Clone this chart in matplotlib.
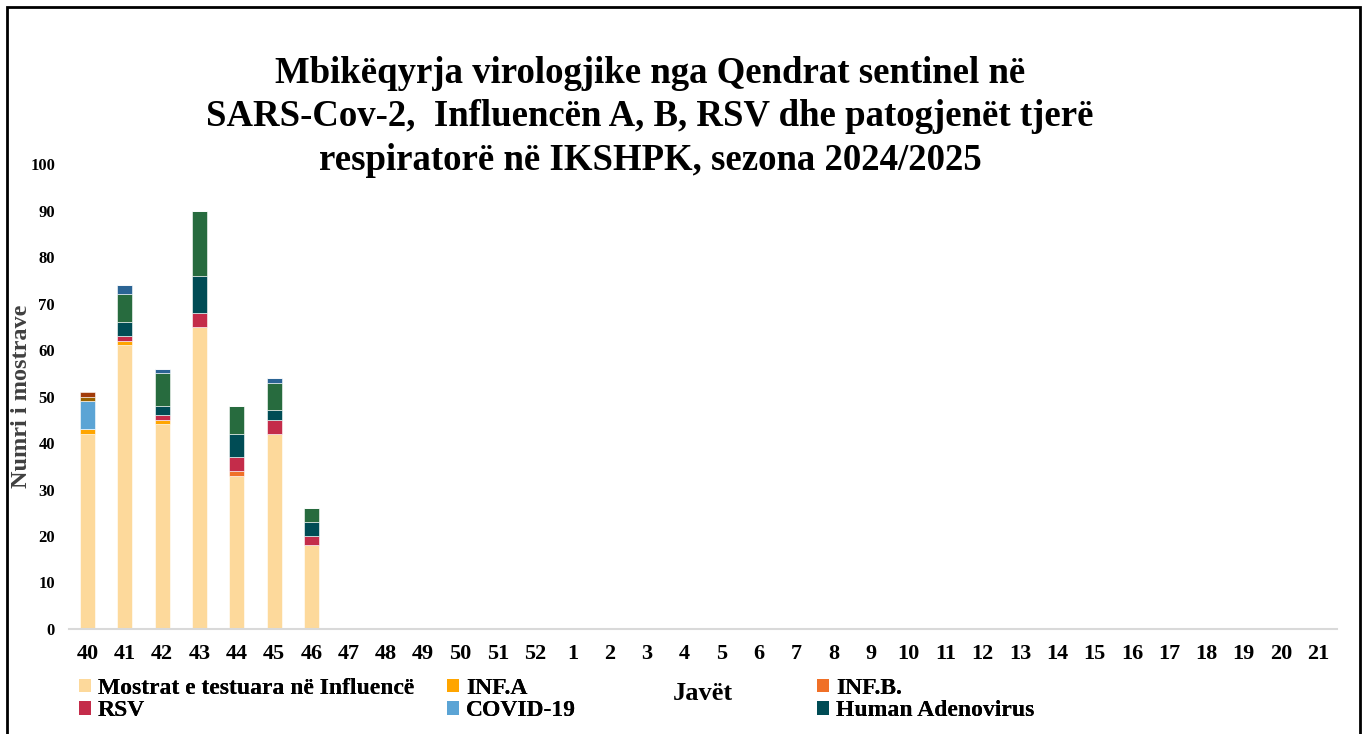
# Stacked weekly bars, sentinel virology surveillance 2024/2025

import numpy as np
import matplotlib.pyplot as plt
from matplotlib.patches import Patch, Rectangle

plt.rcParams["font.family"] = ["Liberation Serif", "DejaVu Serif"]
plt.rcParams["font.weight"] = "bold"

# ------------------------------------------------------------
# Data
# ------------------------------------------------------------
weeks = [str(w) for w in list(range(40, 53)) + list(range(1, 22))]

# values for weeks 40..46 (later weeks empty)
tested  = [42, 61, 44, 65, 33, 42, 18]
inf_a   = [1, 1, 1, 0, 0, 0, 0]
inf_b   = [0, 0, 0, 0, 1, 0, 0]
rsv     = [0, 1, 1, 3, 3, 3, 2]
covid   = [6, 0, 0, 0, 0, 0, 0]
adeno   = [0, 3, 2, 8, 5, 2, 3]
other_green = [0, 6, 7, 14, 6, 6, 3]
other_blue  = [0, 2, 1, 0, 0, 1, 0]
other_olive = [1, 0, 0, 0, 0, 0, 0]
other_brown = [1, 0, 0, 0, 0, 0, 0]

series = [
    ("Mostrat e testuara në Influencë", tested, "#FDD99B"),
    ("INF.A", inf_a, "#FFA500"),
    ("INF.B.", inf_b, "#F07027"),
    ("RSV", rsv, "#C42C4A"),
    ("COVID-19", covid, "#5BA4D5"),
    ("Human Adenovirus", adeno, "#004C55"),
    ("_green", other_green, "#276B3E"),
    ("_blue", other_blue, "#2B6494"),
    ("_olive", other_olive, "#9A6200"),
    ("_brown", other_brown, "#A23B0A"),
]

# ------------------------------------------------------------
# Plot
# ------------------------------------------------------------
W, H = 1367, 734
fig = plt.figure(figsize=(W / 100, H / 100), dpi=100)
ax = fig.add_axes([69 / W, 1 - 629 / H, (1337 - 69) / W, (629 - 164) / H])

x = np.arange(len(tested))
bottom = np.zeros(len(tested))
handles = {}
for label, vals, color in series:
    vals = np.array(vals, dtype=float)
    ax.bar(x, vals, 0.4, bottom=bottom, color=color,
           edgecolor="white", linewidth=0.4)
    bottom += vals
    handles[label] = Patch(facecolor=color)

ax.set_xlim(-0.5, len(weeks) - 0.5)
ax.set_ylim(0, 100)
ax.set_xticks(np.arange(len(weeks)))
ax.set_xticklabels(weeks, fontsize=16, fontweight="bold")
ax.set_yticks(np.arange(0, 101, 10))
ax.tick_params(axis="y", labelsize=12, length=0, pad=10)
ax.tick_params(axis="x", length=0, pad=11)
for s in ["top", "right", "left"]:
    ax.spines[s].set_visible(False)
ax.spines["bottom"].set_color("#D9D9D9")
ax.spines["bottom"].set_linewidth(1.5)

ax.set_ylabel("Numri i mostrave", fontsize=17.5, fontweight="bold", color="#404040")
ax.yaxis.label.set_va("center")
ax.yaxis.set_label_coords((22 - 69) / (1337 - 69), 0.5)
ax.set_xlabel("Javët", fontsize=19, fontweight="bold")
ax.xaxis.label.set_va("center")
ax.xaxis.set_label_coords((703 - 69) / (1337 - 69), (629 - 694) / 465)

fig.text(650 / W, 1 - 117 / H,
         "Mbikëqyrja virologjike nga Qendrat sentinel në\n"
         "SARS-Cov-2,  Influencën A, B, RSV dhe patogjenët tjerë\n"
         "respiratorë në IKSHPK, sezona 2024/2025",
         ha="center", va="center", fontsize=26.5, fontweight="bold",
         linespacing=1.3)

# legend as three two-row blocks
cols = [
    (79, ["Mostrat e testuara në Influencë", "RSV"]),
    (447, ["INF.A", "COVID-19"]),
    (817, ["INF.B.", "Human Adenovirus"]),
]
for xpx, labels in cols:
    leg = fig.legend([handles[l] for l in labels], labels,
                     loc="upper left", bbox_to_anchor=(xpx / W, 1 - 678 / H),
                     frameon=False, fontsize=17, handlelength=0.5,
                     handleheight=0.5, handletextpad=0.3, labelspacing=0.05,
                     borderpad=0, borderaxespad=0)
    fig.add_artist(leg)

# outer frame
fig.add_artist(Rectangle((7 / W, -0.05), (1360 - 7) / W, 1.05 - 7 / H,
                         transform=fig.transFigure, fill=False,
                         edgecolor="black", linewidth=2))

fig.savefig("out.png", dpi=100)
